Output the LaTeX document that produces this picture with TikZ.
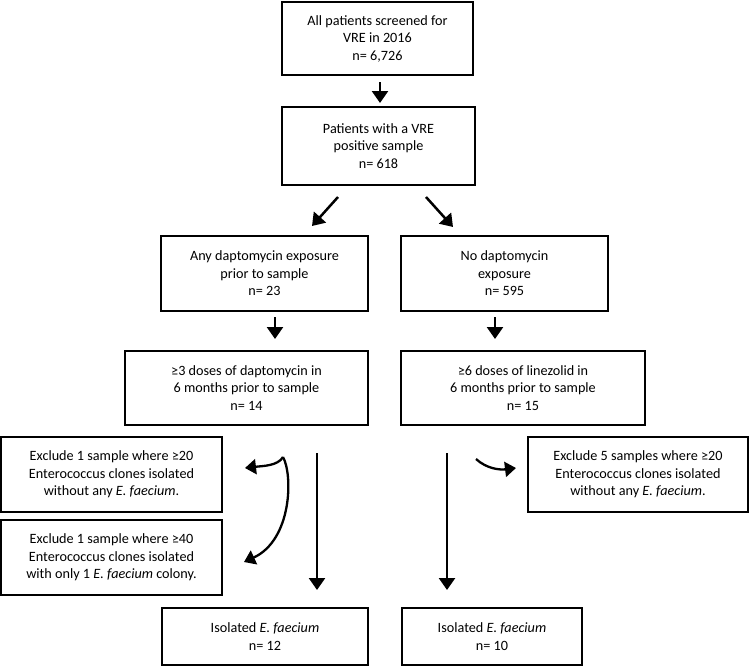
\documentclass[tikz,border=0pt]{standalone}
\usepackage{fontspec}
\setmainfont{Carlito}
\usetikzlibrary{arrows.meta}
\begin{document}
\begin{tikzpicture}[x=1pt,y=-1pt,
  box/.style={draw,line width=1.8pt,align=center,inner sep=0pt,
    font=\fontsize{14.2}{17.5}\selectfont},
  arr/.style={line width=2.5pt,-{Triangle[length=12pt,width=16pt]}},
  carr/.style={line width=2.3pt,-{Triangle[length=11pt,width=15pt]}}]
\useasboundingbox (0,0) rectangle (750,667);
\node[box,minimum width=191pt,minimum height=73pt] (b1) at (377.5,38.5) {All patients screened for\\VRE in 2016\\n= 6,726};
\node[box,minimum width=193pt,minimum height=78pt] (b2) at (378.5,146) {Patients with a VRE\\positive sample\\n= 618};
\node[box,minimum width=207pt,minimum height=75pt] (b3) at (264.5,273.5) {Any daptomycin exposure\\prior to sample\\n= 23};
\node[box,minimum width=207pt,minimum height=75pt] (b4) at (504.5,273.5) {No daptomycin\\exposure\\n= 595};
\node[box,minimum width=243pt,minimum height=74pt] (b5) at (246.5,388) {≥3 doses of daptomycin in\\6 months prior to sample\\n= 14};
\node[box,minimum width=244pt,minimum height=74pt] (b6) at (523,388) {≥6 doses of linezolid in\\6 months prior to sample\\n= 15};
\node[box,minimum width=221pt,minimum height=75pt] (b7) at (111.5,474.5) {Exclude 1 sample where ≥20\\Enterococcus clones isolated\\without any \textit{E. faecium}.};
\node[box,minimum width=221pt,minimum height=75pt] (b8) at (111.5,557.5) {Exclude 1 sample where ≥40\\Enterococcus clones isolated\\with only 1 \textit{E. faecium} colony.};
\node[box,minimum width=220pt,minimum height=75pt] (b9) at (638,474.5) {Exclude 5 samples where ≥20\\Enterococcus clones isolated\\without any \textit{E. faecium}.};
\node[box,minimum width=206pt,minimum height=57pt] (b10) at (265,636.5) {Isolated \textit{E. faecium}\\n= 12};
\node[box,minimum width=180pt,minimum height=57pt] (b11) at (492,636.5) {Isolated \textit{E. faecium}\\n= 10};
% arrow end points
\coordinate (a1s) at (380,82);  \coordinate (a1e) at (380,103);
\coordinate (a2s) at (338,197); \coordinate (a2e) at (312,226);
\coordinate (a3s) at (426,197); \coordinate (a3e) at (453,227);
\coordinate (a4s) at (275,317); \coordinate (a4e) at (275,339);
\coordinate (a5s) at (495,317); \coordinate (a5e) at (495,339);
\coordinate (a6s) at (317,453); \coordinate (a6e) at (317,590);
\coordinate (a7s) at (447,453); \coordinate (a7e) at (447,590);
\coordinate (c1s) at (283,457); \coordinate (c1e) at (245,468);
\coordinate (c2e) at (244,562);
\coordinate (c3s) at (476,459); \coordinate (c3e) at (516,468);
\draw[arr] (a1s) -- (a1e);
\draw[arr] (a2s) -- (a2e);
\draw[arr] (a3s) -- (a3e);
\draw[arr] (a4s) -- (a4e);
\draw[arr] (a5s) -- (a5e);
\draw[arr] (a6s) -- (a6e);
\draw[arr] (a7s) -- (a7e);
\draw[carr] (c1s) .. controls (278,466) and (262,466) .. (c1e);
\draw[carr] (c1s) .. controls (293,475) and (292,540) .. (c2e);
\draw[carr] (c3s) .. controls (487,469) and (500,470) .. (c3e);
\end{tikzpicture}
\end{document}
